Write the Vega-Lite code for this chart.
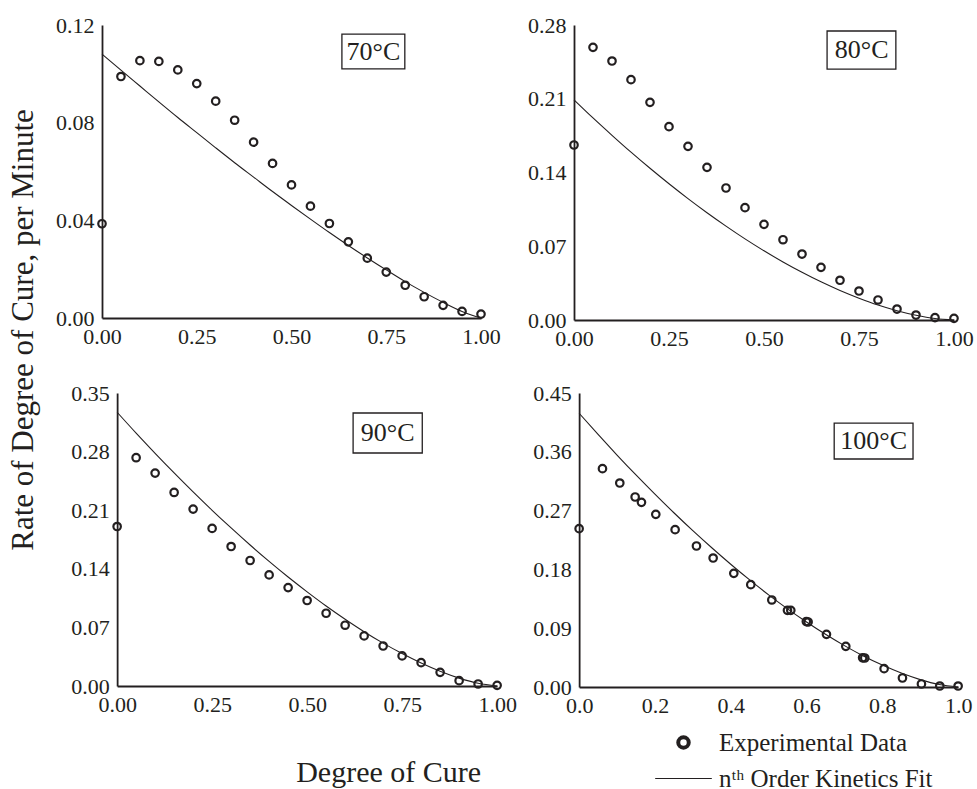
{
  "$schema": "https://vega.github.io/schema/vega-lite/v6.json",
  "padding": {"left": 7, "top": 14, "right": 0, "bottom": 0},
  "background": "white",
  "title": {"text": "Rate of Degree of Cure, per Minute", "orient": "left", "anchor": "middle", "font": "Liberation Serif", "fontSize": 31, "fontWeight": "normal", "color": "#231f20", "offset": 16, "dx": 73},
  "datasets": {
    "exp": [
      {"panel": "70°C", "x": 0, "y": 0.0386}, {"panel": "70°C", "x": 0.05, "y": 0.0989}, {"panel": "70°C", "x": 0.1, "y": 0.1054}, {"panel": "70°C", "x": 0.15, "y": 0.1051}, {"panel": "70°C", "x": 0.2, "y": 0.1016}, {"panel": "70°C", "x": 0.25, "y": 0.096}, {"panel": "70°C", "x": 0.3, "y": 0.0888}, {"panel": "70°C", "x": 0.35, "y": 0.081}, {"panel": "70°C", "x": 0.4, "y": 0.072}, {"panel": "70°C", "x": 0.45, "y": 0.0633}, {"panel": "70°C", "x": 0.5, "y": 0.0545}, {"panel": "70°C", "x": 0.55, "y": 0.0458}, {"panel": "70°C", "x": 0.6, "y": 0.0387}, {"panel": "70°C", "x": 0.65, "y": 0.0312}, {"panel": "70°C", "x": 0.7, "y": 0.0245}, {"panel": "70°C", "x": 0.75, "y": 0.0188}, {"panel": "70°C", "x": 0.8, "y": 0.0134}, {"panel": "70°C", "x": 0.85, "y": 0.0087}, {"panel": "70°C", "x": 0.9, "y": 0.0052}, {"panel": "70°C", "x": 0.95, "y": 0.0027}, {"panel": "70°C", "x": 1.0, "y": 0.0016},
      {"panel": "80°C", "x": 0, "y": 0.1661}, {"panel": "80°C", "x": 0.05, "y": 0.2588}, {"panel": "80°C", "x": 0.1, "y": 0.2458}, {"panel": "80°C", "x": 0.15, "y": 0.2281}, {"panel": "80°C", "x": 0.2, "y": 0.2066}, {"panel": "80°C", "x": 0.25, "y": 0.1835}, {"panel": "80°C", "x": 0.3, "y": 0.1648}, {"panel": "80°C", "x": 0.35, "y": 0.1449}, {"panel": "80°C", "x": 0.4, "y": 0.1253}, {"panel": "80°C", "x": 0.45, "y": 0.1066}, {"panel": "80°C", "x": 0.5, "y": 0.0908}, {"panel": "80°C", "x": 0.55, "y": 0.0762}, {"panel": "80°C", "x": 0.6, "y": 0.0626}, {"panel": "80°C", "x": 0.65, "y": 0.05}, {"panel": "80°C", "x": 0.7, "y": 0.0377}, {"panel": "80°C", "x": 0.75, "y": 0.0275}, {"panel": "80°C", "x": 0.8, "y": 0.019}, {"panel": "80°C", "x": 0.85, "y": 0.0104}, {"panel": "80°C", "x": 0.9, "y": 0.0047}, {"panel": "80°C", "x": 0.95, "y": 0.0022}, {"panel": "80°C", "x": 1.0, "y": 0.0016},
      {"panel": "90°C", "x": 0, "y": 0.1905}, {"panel": "90°C", "x": 0.05, "y": 0.2727}, {"panel": "90°C", "x": 0.1, "y": 0.2543}, {"panel": "90°C", "x": 0.15, "y": 0.2312}, {"panel": "90°C", "x": 0.2, "y": 0.2113}, {"panel": "90°C", "x": 0.25, "y": 0.1882}, {"panel": "90°C", "x": 0.3, "y": 0.1666}, {"panel": "90°C", "x": 0.35, "y": 0.1499}, {"panel": "90°C", "x": 0.4, "y": 0.1327}, {"panel": "90°C", "x": 0.45, "y": 0.1176}, {"panel": "90°C", "x": 0.5, "y": 0.1021}, {"panel": "90°C", "x": 0.55, "y": 0.0869}, {"panel": "90°C", "x": 0.6, "y": 0.0726}, {"panel": "90°C", "x": 0.65, "y": 0.0598}, {"panel": "90°C", "x": 0.7, "y": 0.0478}, {"panel": "90°C", "x": 0.75, "y": 0.0359}, {"panel": "90°C", "x": 0.8, "y": 0.0279}, {"panel": "90°C", "x": 0.85, "y": 0.0163}, {"panel": "90°C", "x": 0.9, "y": 0.0064}, {"panel": "90°C", "x": 0.95, "y": 0.0024}, {"panel": "90°C", "x": 1.0, "y": 0.0008},
      {"panel": "100°C", "x": 0, "y": 0.2423}, {"panel": "100°C", "x": 0.0616, "y": 0.3342}, {"panel": "100°C", "x": 0.1073, "y": 0.3122}, {"panel": "100°C", "x": 0.1478, "y": 0.2908}, {"panel": "100°C", "x": 0.1645, "y": 0.2827}, {"panel": "100°C", "x": 0.2023, "y": 0.2643}, {"panel": "100°C", "x": 0.2533, "y": 0.2408}, {"panel": "100°C", "x": 0.3096, "y": 0.2158}, {"panel": "100°C", "x": 0.3536, "y": 0.1974}, {"panel": "100°C", "x": 0.4081, "y": 0.174}, {"panel": "100°C", "x": 0.4529, "y": 0.1566}, {"panel": "100°C", "x": 0.5084, "y": 0.1332}, {"panel": "100°C", "x": 0.5497, "y": 0.1173}, {"panel": "100°C", "x": 0.5585, "y": 0.1173}, {"panel": "100°C", "x": 0.5995, "y": 0.1002}, {"panel": "100°C", "x": 0.6042, "y": 0.0995}, {"panel": "100°C", "x": 0.6526, "y": 0.0806}, {"panel": "100°C", "x": 0.7036, "y": 0.0622}, {"panel": "100°C", "x": 0.748, "y": 0.0447}, {"panel": "100°C", "x": 0.7537, "y": 0.0444}, {"panel": "100°C", "x": 0.8047, "y": 0.0281}, {"panel": "100°C", "x": 0.8531, "y": 0.0138}, {"panel": "100°C", "x": 0.9032, "y": 0.0046}, {"panel": "100°C", "x": 0.9516, "y": 0.0015}, {"panel": "100°C", "x": 1.0, "y": 0.0015}
    ],
    "fit": [
      {"panel": "70°C", "x": 0, "y": 0.1081}, {"panel": "70°C", "x": 0.05, "y": 0.1015}, {"panel": "70°C", "x": 0.1, "y": 0.095}, {"panel": "70°C", "x": 0.15, "y": 0.0885}, {"panel": "70°C", "x": 0.2, "y": 0.0821}, {"panel": "70°C", "x": 0.25, "y": 0.0759}, {"panel": "70°C", "x": 0.3, "y": 0.0697}, {"panel": "70°C", "x": 0.35, "y": 0.0636}, {"panel": "70°C", "x": 0.4, "y": 0.0577}, {"panel": "70°C", "x": 0.45, "y": 0.0518}, {"panel": "70°C", "x": 0.5, "y": 0.0461}, {"panel": "70°C", "x": 0.55, "y": 0.0405}, {"panel": "70°C", "x": 0.6, "y": 0.035}, {"panel": "70°C", "x": 0.65, "y": 0.0297}, {"panel": "70°C", "x": 0.7, "y": 0.0246}, {"panel": "70°C", "x": 0.75, "y": 0.0197}, {"panel": "70°C", "x": 0.8, "y": 0.0149}, {"panel": "70°C", "x": 0.85, "y": 0.0105}, {"panel": "70°C", "x": 0.9, "y": 0.0064}, {"panel": "70°C", "x": 0.95, "y": 0.0027}, {"panel": "70°C", "x": 1.0, "y": 0},
      {"panel": "80°C", "x": 0, "y": 0.209}, {"panel": "80°C", "x": 0.05, "y": 0.1918}, {"panel": "80°C", "x": 0.1, "y": 0.1753}, {"panel": "80°C", "x": 0.15, "y": 0.1593}, {"panel": "80°C", "x": 0.2, "y": 0.144}, {"panel": "80°C", "x": 0.25, "y": 0.1293}, {"panel": "80°C", "x": 0.3, "y": 0.1152}, {"panel": "80°C", "x": 0.35, "y": 0.1018}, {"panel": "80°C", "x": 0.4, "y": 0.0891}, {"panel": "80°C", "x": 0.45, "y": 0.077}, {"panel": "80°C", "x": 0.5, "y": 0.0657}, {"panel": "80°C", "x": 0.55, "y": 0.0551}, {"panel": "80°C", "x": 0.6, "y": 0.0453}, {"panel": "80°C", "x": 0.65, "y": 0.0362}, {"panel": "80°C", "x": 0.7, "y": 0.028}, {"panel": "80°C", "x": 0.75, "y": 0.0207}, {"panel": "80°C", "x": 0.8, "y": 0.0142}, {"panel": "80°C", "x": 0.85, "y": 0.0088}, {"panel": "80°C", "x": 0.9, "y": 0.0045}, {"panel": "80°C", "x": 0.95, "y": 0.0014}, {"panel": "80°C", "x": 1.0, "y": 0},
      {"panel": "90°C", "x": 0, "y": 0.327}, {"panel": "90°C", "x": 0.05, "y": 0.3021}, {"panel": "90°C", "x": 0.1, "y": 0.278}, {"panel": "90°C", "x": 0.15, "y": 0.2546}, {"panel": "90°C", "x": 0.2, "y": 0.2319}, {"panel": "90°C", "x": 0.25, "y": 0.2099}, {"panel": "90°C", "x": 0.3, "y": 0.1888}, {"panel": "90°C", "x": 0.35, "y": 0.1684}, {"panel": "90°C", "x": 0.4, "y": 0.1489}, {"panel": "90°C", "x": 0.45, "y": 0.1302}, {"panel": "90°C", "x": 0.5, "y": 0.1125}, {"panel": "90°C", "x": 0.55, "y": 0.0956}, {"panel": "90°C", "x": 0.6, "y": 0.0798}, {"panel": "90°C", "x": 0.65, "y": 0.0649}, {"panel": "90°C", "x": 0.7, "y": 0.0512}, {"panel": "90°C", "x": 0.75, "y": 0.0387}, {"panel": "90°C", "x": 0.8, "y": 0.0274}, {"panel": "90°C", "x": 0.85, "y": 0.0176}, {"panel": "90°C", "x": 0.9, "y": 0.0094}, {"panel": "90°C", "x": 0.95, "y": 0.0032}, {"panel": "90°C", "x": 1.0, "y": 0},
      {"panel": "100°C", "x": 0, "y": 0.419}, {"panel": "100°C", "x": 0.05, "y": 0.3866}, {"panel": "100°C", "x": 0.1, "y": 0.3551}, {"panel": "100°C", "x": 0.15, "y": 0.3246}, {"panel": "100°C", "x": 0.2, "y": 0.2952}, {"panel": "100°C", "x": 0.25, "y": 0.2667}, {"panel": "100°C", "x": 0.3, "y": 0.2393}, {"panel": "100°C", "x": 0.35, "y": 0.2131}, {"panel": "100°C", "x": 0.4, "y": 0.1879}, {"panel": "100°C", "x": 0.45, "y": 0.1639}, {"panel": "100°C", "x": 0.5, "y": 0.1411}, {"panel": "100°C", "x": 0.55, "y": 0.1196}, {"panel": "100°C", "x": 0.6, "y": 0.0994}, {"panel": "100°C", "x": 0.65, "y": 0.0806}, {"panel": "100°C", "x": 0.7, "y": 0.0633}, {"panel": "100°C", "x": 0.75, "y": 0.0475}, {"panel": "100°C", "x": 0.8, "y": 0.0335}, {"panel": "100°C", "x": 0.85, "y": 0.0213}, {"panel": "100°C", "x": 0.9, "y": 0.0113}, {"panel": "100°C", "x": 0.95, "y": 0.0038}, {"panel": "100°C", "x": 1.0, "y": 0}
    ],
    "labels": [
      {"panel": "70°C", "x1": 0.633, "x2": 0.799, "y1": 0.102, "y2": 0.1163, "xc": 0.716, "yc": 0.109},
      {"panel": "80°C", "x1": 0.666, "x2": 0.847, "y1": 0.2382, "y2": 0.2743, "xc": 0.757, "yc": 0.2563},
      {"panel": "90°C", "x1": 0.621, "x2": 0.803, "y1": 0.2783, "y2": 0.3261, "xc": 0.712, "yc": 0.3022},
      {"panel": "100°C", "x1": 0.673, "x2": 0.881, "y1": 0.349, "y2": 0.404, "xc": 0.777, "yc": 0.3765}
    ]
  },
  "spacing": 33,
  "center": true,
  "vconcat": [
    {
      "spacing": 26,
      "hconcat": [
        {
          "width": 379, "height": 293,
          "layer": [
            {"data": {"name": "fit"}, "transform": [{"filter": "datum.panel == '70°C'"}], "mark": {"type": "line", "color": "#231f20", "strokeWidth": 1.1, "interpolate": "monotone"},
             "encoding": {
              "x": {"field": "x", "type": "quantitative", "scale": {"domain": [0, 1], "nice": false}, "axis": {"title": null, "values": [0, 0.25, 0.5, 0.75, 1], "format": ".2f"}},
              "y": {"field": "y", "type": "quantitative", "scale": {"domain": [0, 0.12], "nice": false}, "axis": {"title": null, "values": [0, 0.04, 0.08, 0.12], "format": ".2f"}}}},
            {"data": {"name": "exp"}, "transform": [{"filter": "datum.panel == '70°C'"}], "mark": {"type": "point", "filled": false, "size": 56, "strokeWidth": 2.2, "color": "#231f20", "opacity": 1},
             "encoding": {
              "x": {"field": "x", "type": "quantitative", "axis": {"title": null, "values": [0, 0.25, 0.5, 0.75, 1], "format": ".2f"}},
              "y": {"field": "y", "type": "quantitative", "axis": {"title": null, "values": [0, 0.04, 0.08, 0.12], "format": ".2f"}},
              "shape": {"datum": "Experimental Data", "scale": {"domain": ["Experimental Data", "nᵗʰ Order Kinetics Fit"], "range": ["circle", "M-5.4,0H5.4"]}, "legend": {"title": null, "orient": "none", "legendX": 569, "legendY": 705, "symbolSize": 110, "symbolStrokeWidth": {"expr": "datum.value == 'Experimental Data' ? 4 : 1.2"}, "symbolStrokeColor": "#231f20", "labelFont": "Liberation Serif", "labelFontSize": 25, "labelColor": "#231f20", "labelOffset": 23, "rowPadding": 10, "labelLimit": 400}}}},
            {"data": {"name": "labels"}, "transform": [{"filter": "datum.panel == '70°C'"}], "mark": {"type": "rect", "fill": "white", "stroke": "#231f20", "strokeWidth": 1.3},
             "encoding": {
              "x": {"field": "x1", "type": "quantitative", "axis": {"title": null, "values": [0, 0.25, 0.5, 0.75, 1], "format": ".2f"}}, "x2": {"field": "x2"},
              "y": {"field": "y1", "type": "quantitative", "axis": {"title": null, "values": [0, 0.04, 0.08, 0.12], "format": ".2f"}}, "y2": {"field": "y2"}}},
            {"data": {"name": "labels"}, "transform": [{"filter": "datum.panel == '70°C'"}], "mark": {"type": "text", "font": "Liberation Serif", "fontSize": 26, "color": "#231f20", "baseline": "middle", "align": "center"},
             "encoding": {
              "x": {"field": "xc", "type": "quantitative", "axis": {"title": null, "values": [0, 0.25, 0.5, 0.75, 1], "format": ".2f"}},
              "y": {"field": "yc", "type": "quantitative", "axis": {"title": null, "values": [0, 0.04, 0.08, 0.12], "format": ".2f"}},
              "text": {"field": "panel"}}}
          ]
        },
        {
          "width": 380, "height": 295,
          "layer": [
            {"data": {"name": "fit"}, "transform": [{"filter": "datum.panel == '80°C'"}], "mark": {"type": "line", "color": "#231f20", "strokeWidth": 1.1, "interpolate": "monotone"},
             "encoding": {
              "x": {"field": "x", "type": "quantitative", "scale": {"domain": [0, 1], "nice": false}, "axis": {"title": "_", "titleColor": "transparent", "titleFontSize": 10, "titleX": 408, "titleY": 10, "titleAlign": "left", "values": [0, 0.25, 0.5, 0.75, 1], "format": ".2f"}},
              "y": {"field": "y", "type": "quantitative", "scale": {"domain": [0, 0.28], "nice": false}, "axis": {"title": null, "values": [0, 0.07, 0.14, 0.21, 0.28], "format": ".2f"}}}},
            {"data": {"name": "exp"}, "transform": [{"filter": "datum.panel == '80°C'"}], "mark": {"type": "point", "filled": false, "size": 56, "strokeWidth": 2.2, "color": "#231f20", "opacity": 1},
             "encoding": {
              "x": {"field": "x", "type": "quantitative", "axis": {"title": "_", "titleColor": "transparent", "titleFontSize": 10, "titleX": 408, "titleY": 10, "titleAlign": "left", "values": [0, 0.25, 0.5, 0.75, 1], "format": ".2f"}},
              "y": {"field": "y", "type": "quantitative", "axis": {"title": null, "values": [0, 0.07, 0.14, 0.21, 0.28], "format": ".2f"}},
              "shape": {"datum": "Experimental Data", "scale": {"domain": ["Experimental Data", "nᵗʰ Order Kinetics Fit"], "range": ["circle", "M-5.4,0H5.4"]}}}},
            {"data": {"name": "labels"}, "transform": [{"filter": "datum.panel == '80°C'"}], "mark": {"type": "rect", "fill": "white", "stroke": "#231f20", "strokeWidth": 1.3},
             "encoding": {
              "x": {"field": "x1", "type": "quantitative", "axis": {"title": "_", "titleColor": "transparent", "titleFontSize": 10, "titleX": 408, "titleY": 10, "titleAlign": "left", "values": [0, 0.25, 0.5, 0.75, 1], "format": ".2f"}}, "x2": {"field": "x2"},
              "y": {"field": "y1", "type": "quantitative", "axis": {"title": null, "values": [0, 0.07, 0.14, 0.21, 0.28], "format": ".2f"}}, "y2": {"field": "y2"}}},
            {"data": {"name": "labels"}, "transform": [{"filter": "datum.panel == '80°C'"}], "mark": {"type": "text", "font": "Liberation Serif", "fontSize": 26, "color": "#231f20", "baseline": "middle", "align": "center"},
             "encoding": {
              "x": {"field": "xc", "type": "quantitative", "axis": {"title": "_", "titleColor": "transparent", "titleFontSize": 10, "titleX": 408, "titleY": 10, "titleAlign": "left", "values": [0, 0.25, 0.5, 0.75, 1], "format": ".2f"}},
              "y": {"field": "yc", "type": "quantitative", "axis": {"title": null, "values": [0, 0.07, 0.14, 0.21, 0.28], "format": ".2f"}},
              "text": {"field": "panel"}}}
          ]
        }
      ]
    },
    {
      "spacing": 15,
      "hconcat": [
        {
          "width": 380, "height": 293,
          "layer": [
            {"data": {"name": "fit"}, "transform": [{"filter": "datum.panel == '90°C'"}], "mark": {"type": "line", "color": "#231f20", "strokeWidth": 1.1, "interpolate": "monotone"},
             "encoding": {
              "x": {"field": "x", "type": "quantitative", "scale": {"domain": [0, 1], "nice": false}, "axis": {"title": "Degree of Cure", "titleX": 271, "titleY": 95, "titleBaseline": "alphabetic", "titleAlign": "center", "titleFont": "Liberation Serif", "titleFontSize": 30, "titleFontWeight": "normal", "titleColor": "#231f20", "values": [0, 0.25, 0.5, 0.75, 1], "format": ".2f"}},
              "y": {"field": "y", "type": "quantitative", "scale": {"domain": [0, 0.35], "nice": false}, "axis": {"title": null, "values": [0, 0.07, 0.14, 0.21, 0.28, 0.35], "format": ".2f"}}}},
            {"data": {"name": "exp"}, "transform": [{"filter": "datum.panel == '90°C'"}], "mark": {"type": "point", "filled": false, "size": 56, "strokeWidth": 2.2, "color": "#231f20", "opacity": 1},
             "encoding": {
              "x": {"field": "x", "type": "quantitative", "axis": {"title": "Degree of Cure", "titleX": 271, "titleY": 95, "titleBaseline": "alphabetic", "titleAlign": "center", "titleFont": "Liberation Serif", "titleFontSize": 30, "titleFontWeight": "normal", "titleColor": "#231f20", "values": [0, 0.25, 0.5, 0.75, 1], "format": ".2f"}},
              "y": {"field": "y", "type": "quantitative", "axis": {"title": null, "values": [0, 0.07, 0.14, 0.21, 0.28, 0.35], "format": ".2f"}},
              "shape": {"datum": "Experimental Data", "scale": {"domain": ["Experimental Data", "nᵗʰ Order Kinetics Fit"], "range": ["circle", "M-5.4,0H5.4"]}}}},
            {"data": {"name": "labels"}, "transform": [{"filter": "datum.panel == '90°C'"}], "mark": {"type": "rect", "fill": "white", "stroke": "#231f20", "strokeWidth": 1.3},
             "encoding": {
              "x": {"field": "x1", "type": "quantitative", "axis": {"title": "Degree of Cure", "titleX": 271, "titleY": 95, "titleBaseline": "alphabetic", "titleAlign": "center", "titleFont": "Liberation Serif", "titleFontSize": 30, "titleFontWeight": "normal", "titleColor": "#231f20", "values": [0, 0.25, 0.5, 0.75, 1], "format": ".2f"}}, "x2": {"field": "x2"},
              "y": {"field": "y1", "type": "quantitative", "axis": {"title": null, "values": [0, 0.07, 0.14, 0.21, 0.28, 0.35], "format": ".2f"}}, "y2": {"field": "y2"}}},
            {"data": {"name": "labels"}, "transform": [{"filter": "datum.panel == '90°C'"}], "mark": {"type": "text", "font": "Liberation Serif", "fontSize": 26, "color": "#231f20", "baseline": "middle", "align": "center"},
             "encoding": {
              "x": {"field": "xc", "type": "quantitative", "axis": {"title": "Degree of Cure", "titleX": 271, "titleY": 95, "titleBaseline": "alphabetic", "titleAlign": "center", "titleFont": "Liberation Serif", "titleFontSize": 30, "titleFontWeight": "normal", "titleColor": "#231f20", "values": [0, 0.25, 0.5, 0.75, 1], "format": ".2f"}},
              "y": {"field": "yc", "type": "quantitative", "axis": {"title": null, "values": [0, 0.07, 0.14, 0.21, 0.28, 0.35], "format": ".2f"}},
              "text": {"field": "panel"}}}
          ]
        },
        {
          "width": 379, "height": 294,
          "layer": [
            {"data": {"name": "fit"}, "transform": [{"filter": "datum.panel == '100°C'"}], "mark": {"type": "line", "color": "#231f20", "strokeWidth": 1.1, "interpolate": "monotone"},
             "encoding": {
              "x": {"field": "x", "type": "quantitative", "scale": {"domain": [0, 1], "nice": false}, "axis": {"title": null, "values": [0, 0.2, 0.4, 0.6, 0.8, 1], "format": ".1f"}},
              "y": {"field": "y", "type": "quantitative", "scale": {"domain": [0, 0.45], "nice": false}, "axis": {"title": null, "values": [0, 0.09, 0.18, 0.27, 0.36, 0.45], "format": ".2f"}}}},
            {"data": {"name": "exp"}, "transform": [{"filter": "datum.panel == '100°C'"}], "mark": {"type": "point", "filled": false, "size": 56, "strokeWidth": 2.2, "color": "#231f20", "opacity": 1},
             "encoding": {
              "x": {"field": "x", "type": "quantitative", "axis": {"title": null, "values": [0, 0.2, 0.4, 0.6, 0.8, 1], "format": ".1f"}},
              "y": {"field": "y", "type": "quantitative", "axis": {"title": null, "values": [0, 0.09, 0.18, 0.27, 0.36, 0.45], "format": ".2f"}},
              "shape": {"datum": "Experimental Data", "scale": {"domain": ["Experimental Data", "nᵗʰ Order Kinetics Fit"], "range": ["circle", "M-5.4,0H5.4"]}}}},
            {"data": {"name": "labels"}, "transform": [{"filter": "datum.panel == '100°C'"}], "mark": {"type": "rect", "fill": "white", "stroke": "#231f20", "strokeWidth": 1.3},
             "encoding": {
              "x": {"field": "x1", "type": "quantitative", "axis": {"title": null, "values": [0, 0.2, 0.4, 0.6, 0.8, 1], "format": ".1f"}}, "x2": {"field": "x2"},
              "y": {"field": "y1", "type": "quantitative", "axis": {"title": null, "values": [0, 0.09, 0.18, 0.27, 0.36, 0.45], "format": ".2f"}}, "y2": {"field": "y2"}}},
            {"data": {"name": "labels"}, "transform": [{"filter": "datum.panel == '100°C'"}], "mark": {"type": "text", "font": "Liberation Serif", "fontSize": 26, "color": "#231f20", "baseline": "middle", "align": "center"},
             "encoding": {
              "x": {"field": "xc", "type": "quantitative", "axis": {"title": null, "values": [0, 0.2, 0.4, 0.6, 0.8, 1], "format": ".1f"}},
              "y": {"field": "yc", "type": "quantitative", "axis": {"title": null, "values": [0, 0.09, 0.18, 0.27, 0.36, 0.45], "format": ".2f"}},
              "text": {"field": "panel"}}}
          ]
        }
      ]
    }
  ],
  "config": {
    "view": {"stroke": null},
    "font": "Liberation Serif",
    "axis": {"domainColor": "#231f20", "domainWidth": 1.8, "ticks": false, "grid": false, "labelFont": "Liberation Serif", "labelFontSize": 22, "labelColor": "#231f20", "labelPadding": 8, "labelFlush": false, "labelOverlap": false, "labelBound": false}
  }
}
